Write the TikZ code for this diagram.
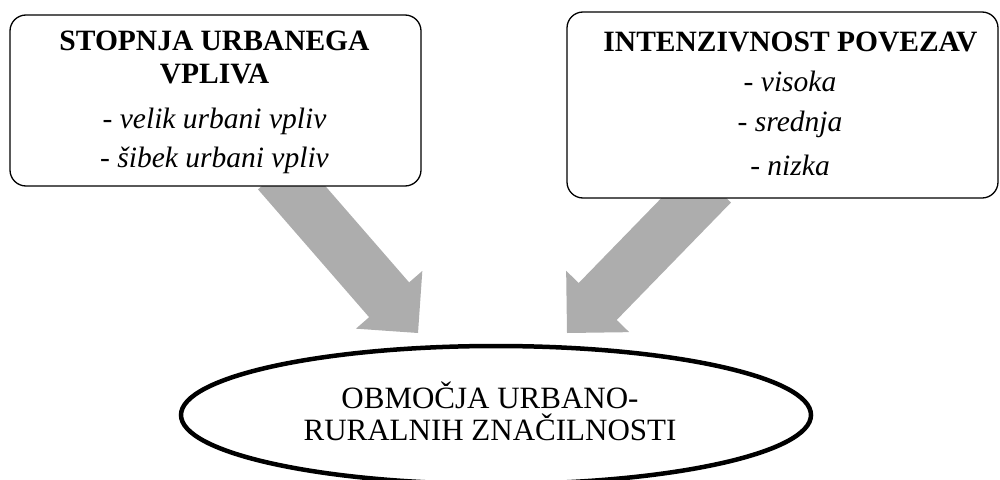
\documentclass[tikz,border=0pt]{standalone}
\usepackage{fontspec}
\setmainfont{Liberation Serif}
\usetikzlibrary{calc,shapes.geometric}

\definecolor{arrowfill}{RGB}{173,173,173}

\tikzset{
  infobox/.style={draw=black, line width=1.3pt, rounded corners=16pt, fill=white, inner sep=0pt},
  headtext/.style={font=\fontsize{29.5}{33}\selectfont\bfseries, anchor=base, inner sep=0pt},
  itemtext/.style={font=\fontsize{29.5}{33}\selectfont\itshape, anchor=base, inner sep=0pt},
  areatext/.style={font=\fontsize{31}{32}\selectfont, anchor=base, inner sep=0pt},
  areashape/.style={draw=black, ellipse, line width=4.5pt, inner sep=0pt},
}

% wide grey block arrow: #1 name, #2 tail point, #3 tip point
\newcommand\blockarrow[3]{%
  \coordinate (#1-base) at ($(#3)!44pt!(#2)$);
  \fill[arrowfill]
    ($(#2)!26.5pt!90:(#3)$) -- ($(#1-base)!26.5pt!90:(#3)$)
    -- ($(#1-base)!44pt!90:(#3)$) -- (#3)
    -- ($(#1-base)!44pt!-90:(#3)$) -- ($(#1-base)!26.5pt!-90:(#3)$)
    -- ($(#2)!26.5pt!-90:(#3)$) -- cycle;
}

\begin{document}
\begin{tikzpicture}[x=1pt, y=-1pt]
  \useasboundingbox (0,0) rectangle (1000,479);

  % arrows (their tails are hidden under the boxes)
  \coordinate (ltail) at (278,172);
  \coordinate (ltip)  at (418,333);
  \coordinate (rtail) at (712,184);
  \coordinate (rtip)  at (567,333);
  \blockarrow{larrow}{ltail}{ltip}
  \blockarrow{rarrow}{rtail}{rtip}

  % left box: degree of urban influence
  \node[infobox, minimum width=411pt, minimum height=171pt] (lbox) at (215.5,100.5) {};
  \node[headtext] (lh1) at (214.5,50.5) {STOPNJA URBANEGA};
  \node[headtext] (lh2) at (214.5,83.3) {VPLIVA};
  \node[itemtext] (li1) at (214.5,128.3) {- velik urbani vpliv};
  \node[itemtext] (li2) at (214.5,167) {- šibek urbani vpliv};

  % right box: intensity of links
  \node[infobox, minimum width=431pt, minimum height=186pt] (rbox) at (782.5,105) {};
  \node[headtext] (rh1) at (790.5,51.7) {INTENZIVNOST POVEZAV};
  \node[itemtext] (ri1) at (790,91.7) {- visoka};
  \node[itemtext] (ri2) at (790,131.7) {- srednja};
  \node[itemtext] (ri3) at (790,175) {- nizka};

  % resulting areas
  \node[areashape, minimum width=630pt, minimum height=138pt] (area) at (496,415) {};
  \node[areatext] (at1) at (490,408.3) {OBMOČJA URBANO-};
  \node[areatext] (at2) at (490,440) {RURALNIH ZNAČILNOSTI};
\end{tikzpicture}
\end{document}
